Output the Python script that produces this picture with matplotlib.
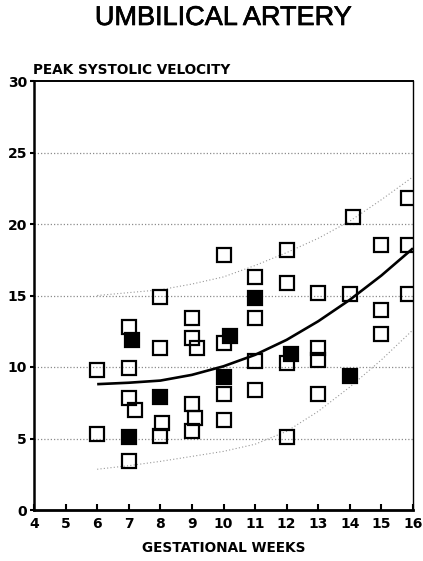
import matplotlib
matplotlib.use("Agg")
import matplotlib.pyplot as plt
import matplotlib.patheffects as pe

# peak systolic velocity per case, open = normal outcome, filled = flagged cases
open_weeks = [6, 6, 7, 7, 7, 7.2, 7,
              8, 8, 8.05, 8,
              9, 9, 9.15, 9, 9.1, 9,
              10, 10, 10, 10,
              11, 11, 11, 11,
              12, 12, 12, 12,
              13, 13, 13, 13,
              14.1, 14,
              15, 15, 15,
              15.85, 15.85, 15.85]
open_psv = [9.8, 5.3, 12.8, 9.9, 7.8, 7.0, 3.4,
            14.9, 11.3, 6.1, 5.2,
            13.4, 12.0, 11.3, 7.4, 6.4, 5.5,
            17.8, 11.7, 8.1, 6.3,
            16.3, 13.4, 10.4, 8.4,
            18.2, 15.9, 10.3, 5.1,
            15.2, 11.3, 10.5, 8.1,
            20.5, 15.1,
            18.5, 14.0, 12.3,
            21.8, 18.5, 15.1]

filled_weeks = [7.1, 7, 8, 10.2, 10, 11, 12.15, 14]
filled_psv = [11.9, 5.1, 7.9, 12.2, 9.3, 14.8, 10.9, 9.4]

# regression mean and reference limits, read at whole weeks
curve_weeks = [6, 7, 8, 9, 10, 11, 12, 13, 14, 15, 16]
mean_psv = [8.8, 8.9, 9.05, 9.45, 10.05, 10.85, 11.9, 13.2, 14.7, 16.4, 18.3]
upper_psv = [15.0, 15.2, 15.4, 15.8, 16.3, 17.1, 18.0, 19.0, 20.2, 21.7, 23.3]
lower_psv = [2.85, 3.1, 3.4, 3.75, 4.1, 4.6, 5.5, 6.9, 8.6, 10.5, 12.6]

x_ticks = list(range(4, 17))
y_ticks = [0, 5, 10, 15, 20, 25, 30]

label_font = dict(family="DejaVu Sans", weight="bold")

fig = plt.figure(figsize=(4.23, 5.61), dpi=100)
ax = fig.add_axes([34 / 423, 1 - 510 / 561, 379 / 423, 429 / 561])

for y in y_ticks[1:-1]:
    ax.plot([4, 16], [y, y], color="0.55", lw=0.9, ls=(0, (1, 1.6)), zorder=1)

ax.plot(curve_weeks, upper_psv, color="0.6", lw=0.8, ls=(0, (1, 2)), zorder=1)
ax.plot(curve_weeks, lower_psv, color="0.6", lw=0.8, ls=(0, (1, 2)), zorder=1)

ax.plot(open_weeks, open_psv, ls="none", marker="s", ms=10.6, mew=1.6,
        mfc="none", mec="black", zorder=3)
ax.plot(filled_weeks, filled_psv, ls="none", marker="s", ms=10.6, mew=1.6,
        mfc="black", mec="black", zorder=4)
ax.plot(curve_weeks, mean_psv, color="black", lw=1.9, zorder=5,
        solid_capstyle="butt")

ax.set_xlim(4, 16)
ax.set_ylim(0, 30)
ax.set_xticks(x_ticks)
ax.set_yticks(y_ticks)
ax.set_xticklabels([str(t) for t in x_ticks], fontsize=10, **label_font)
ax.set_yticklabels([str(t) for t in y_ticks], fontsize=10, **label_font)
ax.tick_params(axis="x", direction="in", length=4, width=1.5, pad=5)
ax.tick_params(axis="y", direction="out", length=3, width=1.5, pad=2)

ax.spines["left"].set_linewidth(1.8)
ax.spines["bottom"].set_linewidth(2.0)
ax.spines["top"].set_linewidth(1.4)
ax.spines["right"].set_linewidth(1.0)

fig.text(223.5 / 423, 1 - 18 / 561, "UMBILICAL ARTERY", ha="center", va="center",
         fontsize=19.5, family="Liberation Sans",
         path_effects=[pe.withStroke(linewidth=0.5, foreground="black")])
fig.text(33 / 423, 1 - 70 / 561, "PEAK SYSTOLIC VELOCITY", ha="left", va="center",
         fontsize=9.8, **label_font)
fig.text(223.5 / 423, 1 - 548 / 561, "GESTATIONAL WEEKS", ha="center", va="center",
         fontsize=9.8, **label_font)

fig.savefig("out.png", dpi=100)
